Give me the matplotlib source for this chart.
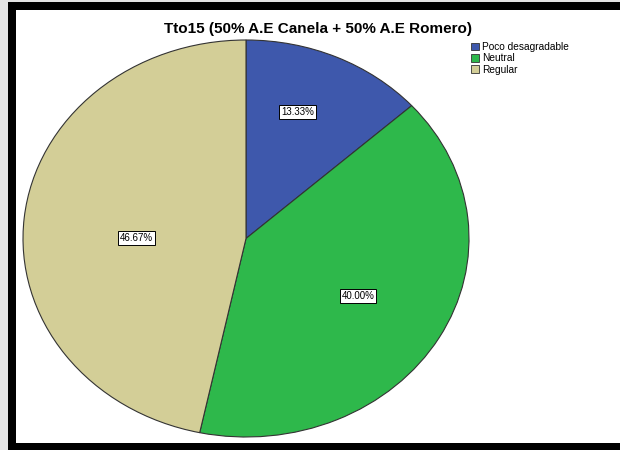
import matplotlib
matplotlib.use("Agg")
import matplotlib.pyplot as plt
import numpy as np
from matplotlib.patches import Rectangle

title = "Tto15 (50% A.E Canela + 50% A.E Romero)"
categories = ["Poco desagradable", "Neutral", "Regular"]
percentages = [13.33, 40.00, 46.67]
colors = ["#3E58AC", "#2EB84B", "#D3CE97"]

W, H = 620, 450
fig = plt.figure(figsize=(W / 100, H / 100), dpi=100)
fig.patch.set_facecolor("white")

# heavy black frame on left, top and bottom
def px_rect(x0, y0, x1, y1, color):
    fig.patches.append(Rectangle((x0 / W, 1 - y1 / H), (x1 - x0) / W, (y1 - y0) / H,
                                 transform=fig.transFigure, facecolor=color,
                                 edgecolor="none", zorder=0))

px_rect(0, 0, 8, 450, "#e4e4e4")
px_rect(0, 0, 620, 2, "#e4e4e4")
px_rect(8, 2, 16, 450, "black")
px_rect(8, 2, 620, 10, "black")
px_rect(8, 443, 620, 450, "black")

# elliptical pie area
cx, cy, rx, ry = 246, 238.5, 223, 198.5
ax = fig.add_axes([(cx - rx) / W, 1 - (cy + ry) / H, 2 * rx / W, 2 * ry / H])
ax.axis("off")

wedges, texts, autotexts = ax.pie(
    percentages, colors=colors, startangle=90, counterclock=False,
    radius=1, autopct="%.2f%%", pctdistance=0.6,
    wedgeprops=dict(edgecolor="#333333", linewidth=0.8),
    textprops=dict(fontsize=7, family="Liberation Sans"),
)
ax.set_aspect("auto")
ax.set_xlim(-1, 1)
ax.set_ylim(-1, 1)

label_dist = [0.68, 0.58, 0.49]
label_shift = [4.0, 0.0, 5.5]
for w, t, d, s in zip(wedges, autotexts, label_dist, label_shift):
    th = np.deg2rad((w.theta1 + w.theta2) / 2 + s)
    t.set_position((d * np.cos(th), d * np.sin(th)))
    t.set_bbox(dict(boxstyle="square,pad=0.2", facecolor="white",
                    edgecolor="black", linewidth=0.7))

fig.text(318 / W, 1 - 29 / H, title, ha="center", va="center",
         fontsize=11, fontweight="bold", family="Liberation Sans")

# legend
handles = [Rectangle((0, 0), 1, 1, facecolor=c, edgecolor="#333333", linewidth=0.6)
           for c in colors]
fig.legend(handles, categories, loc="upper left",
           bbox_to_anchor=(464 / W, 1 - 35 / H), frameon=False,
           prop=dict(family="Liberation Sans", size=7.3),
           handlelength=0.8, handleheight=0.8, handletextpad=0.3,
           labelspacing=0.12, borderpad=0.2)

fig.savefig("out.png", dpi=100)
